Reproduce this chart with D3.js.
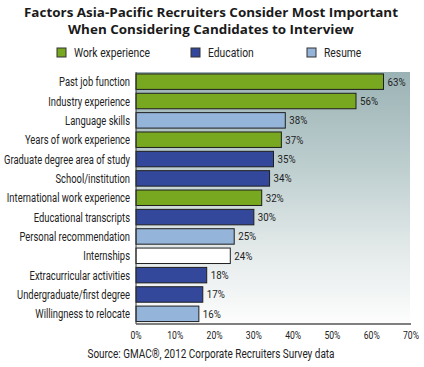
<!DOCTYPE html>
<html>
<head>
<meta charset="utf-8">
<script src="https://cdn.jsdelivr.net/npm/d3@7"></script>
<style>
  body { margin: 0; background: #fff; }
  svg { display: block; }
</style>
</head>
<body>
<svg width="424" height="367"></svg>
<script>
let width = 424,
    height = 367;

let categories = [
    "Past job function",
    "Industry experience",
    "Language skills",
    "Years of work experience",
    "Graduate degree area of study",
    "School/institution",
    "International work experience",
    "Educational transcripts",
    "Personal recommendation",
    "Internships",
    "Extracurricular activities",
    "Undergraduate/first degree",
    "Willingness to relocate"
];
let values = [63, 56, 38, 37, 35, 34, 32, 30, 25, 24, 18, 17, 16];
let groups = ["work", "work", "resume", "work", "edu", "edu", "work", "edu", "resume", "none", "edu", "edu", "resume"];

let legendKeys = ["work", "edu", "resume"];
let legendLabels = ["Work experience", "Education", "Resume"];
let ticks = [0, 10, 20, 30, 40, 50, 60, 70];

let colors = {work: "#78a720", edu: "#34489b", resume: "#95b4d9", none: "#ffffff"};

let margin = {left: 136, right: 13, top: 72, bottom: 43};
let labelFont = "Roboto, 'DejaVu Sans Condensed', Arial, sans-serif";

// squeeze a text horizontally so it reads like the narrow original face
let condense = (sel, k) => {
    sel.each(function () {
        let w = this.getComputedTextLength();
        d3.select(this)
            .attr("textLength", w * k)
            .attr("lengthAdjust", "spacingAndGlyphs");
    });
};

let svg = d3.select("svg");

let defs = svg.append("defs");
let grad = defs.append("linearGradient")
    .attr("id", "bg")
    .attr("x1", "0").attr("y1", "1")
    .attr("x2", "0").attr("y2", "0");
grad.append("stop").attr("offset", "0").attr("stop-color", "#fdfdfd");
grad.append("stop").attr("offset", "0.3").attr("stop-color", "#e3e9e9");
grad.append("stop").attr("offset", "0.6").attr("stop-color", "#c0d0d1");
grad.append("stop").attr("offset", "1").attr("stop-color", "#9bb2b4");

let x = d3.scaleLinear()
    .domain([0, 70])
    .range([margin.left, width - margin.right]);

let y = d3.scaleBand()
    .domain(categories)
    .range([margin.top, height - margin.bottom - 0.5])
    .paddingInner(0.2)
    .paddingOuter(0.1);

// plot background
svg.append("rect")
    .attr("x", x(0))
    .attr("y", margin.top)
    .attr("width", x(70) - x(0) - 1)
    .attr("height", height - margin.bottom - margin.top)
    .attr("fill", "url(#bg)");

// title
let titleLines = ["Factors Asia-Pacific Recruiters Consider Most Important",
    "When Considering Candidates to Interview"];
let title = svg.append("g").selectAll("text")
    .data(titleLines)
    .join("text")
    .attr("x", 211)
    .attr("y", (d, i) => 16.5 + i * 17.5)
    .attr("text-anchor", "middle")
    .attr("font-family", "'Open Sans', 'DejaVu Sans', sans-serif")
    .attr("font-weight", "bold")
    .attr("font-size", 13)
    .attr("fill", "#1a1a1a")
    .text(d => d);
let titleK = 374 / title.node().getComputedTextLength();
condense(title, titleK);

// legend
let legendX = [57, 191, 307];
let legend = svg.append("g").selectAll("g")
    .data(legendKeys)
    .join("g")
    .attr("transform", (d, i) => `translate(${legendX[i]},48)`);
legend.append("rect")
    .attr("width", 9).attr("height", 9)
    .attr("fill", d => colors[d])
    .attr("stroke", "#333")
    .attr("stroke-width", 1);
let legendText = legend.append("text")
    .attr("x", 17).attr("y", 9)
    .attr("font-family", labelFont)
    .attr("font-size", 12.5)
    .attr("fill", "#222")
    .text((d, i) => legendLabels[i]);
condense(legendText, 76 / legendText.node().getComputedTextLength());

// bars
let rows = categories.map((c, i) => ({name: c, value: values[i], group: groups[i]}));

svg.append("g").selectAll("rect")
    .data(rows)
    .join("rect")
    .attr("x", x(0))
    .attr("y", d => y(d.name))
    .attr("width", d => x(d.value) - x(0))
    .attr("height", y.bandwidth())
    .attr("fill", d => colors[d.group])
    .attr("stroke", "#1e1e1e")
    .attr("stroke-width", 1);

// value labels
let valueText = svg.append("g").selectAll("text")
    .data(rows)
    .join("text")
    .attr("x", d => x(d.value) + 4)
    .attr("y", d => y(d.name) + y.bandwidth() / 2 + 4)
    .attr("font-family", labelFont)
    .attr("font-size", 11)
    .attr("fill", "#222")
    .text(d => d.value + "%");
condense(valueText, 18 / valueText.node().getComputedTextLength());

// category labels
let catText = svg.append("g").selectAll("text")
    .data(rows)
    .join("text")
    .attr("x", 130)
    .attr("y", d => y(d.name) + y.bandwidth() / 2 + 4.5)
    .attr("text-anchor", "end")
    .attr("font-family", labelFont)
    .attr("font-size", 12.5)
    .attr("fill", "#222")
    .text(d => d.name);
condense(catText, 126 / catText.filter(d => d.name === "Graduate degree area of study").node().getComputedTextLength());

// axes lines
let yBottom = height - margin.bottom;
svg.append("line")
    .attr("x1", x(0)).attr("x2", x(0))
    .attr("y1", margin.top).attr("y2", yBottom)
    .attr("stroke", "#333").attr("stroke-width", 1);
svg.append("line")
    .attr("x1", x(0)).attr("x2", x(70))
    .attr("y1", yBottom).attr("y2", yBottom)
    .attr("stroke", "#555").attr("stroke-width", 1.5);

// tick labels
let tickText = svg.append("g").selectAll("text")
    .data(ticks)
    .join("text")
    .attr("x", d => x(d))
    .attr("y", yBottom + 15)
    .attr("text-anchor", "middle")
    .attr("font-family", labelFont)
    .attr("font-size", 11.5)
    .attr("fill", "#222")
    .text(d => d + "%");
condense(tickText, 16 / tickText.filter(d => d === 70).node().getComputedTextLength());

// source
let source = svg.append("text")
    .attr("x", 211)
    .attr("y", 358)
    .attr("text-anchor", "middle")
    .attr("font-family", labelFont)
    .attr("font-size", 12.5)
    .attr("fill", "#222")
    .text("Source: GMAC®, 2012 Corporate Recruiters Survey data");
condense(source, 247 / source.node().getComputedTextLength());
</script>
</body>
</html>
